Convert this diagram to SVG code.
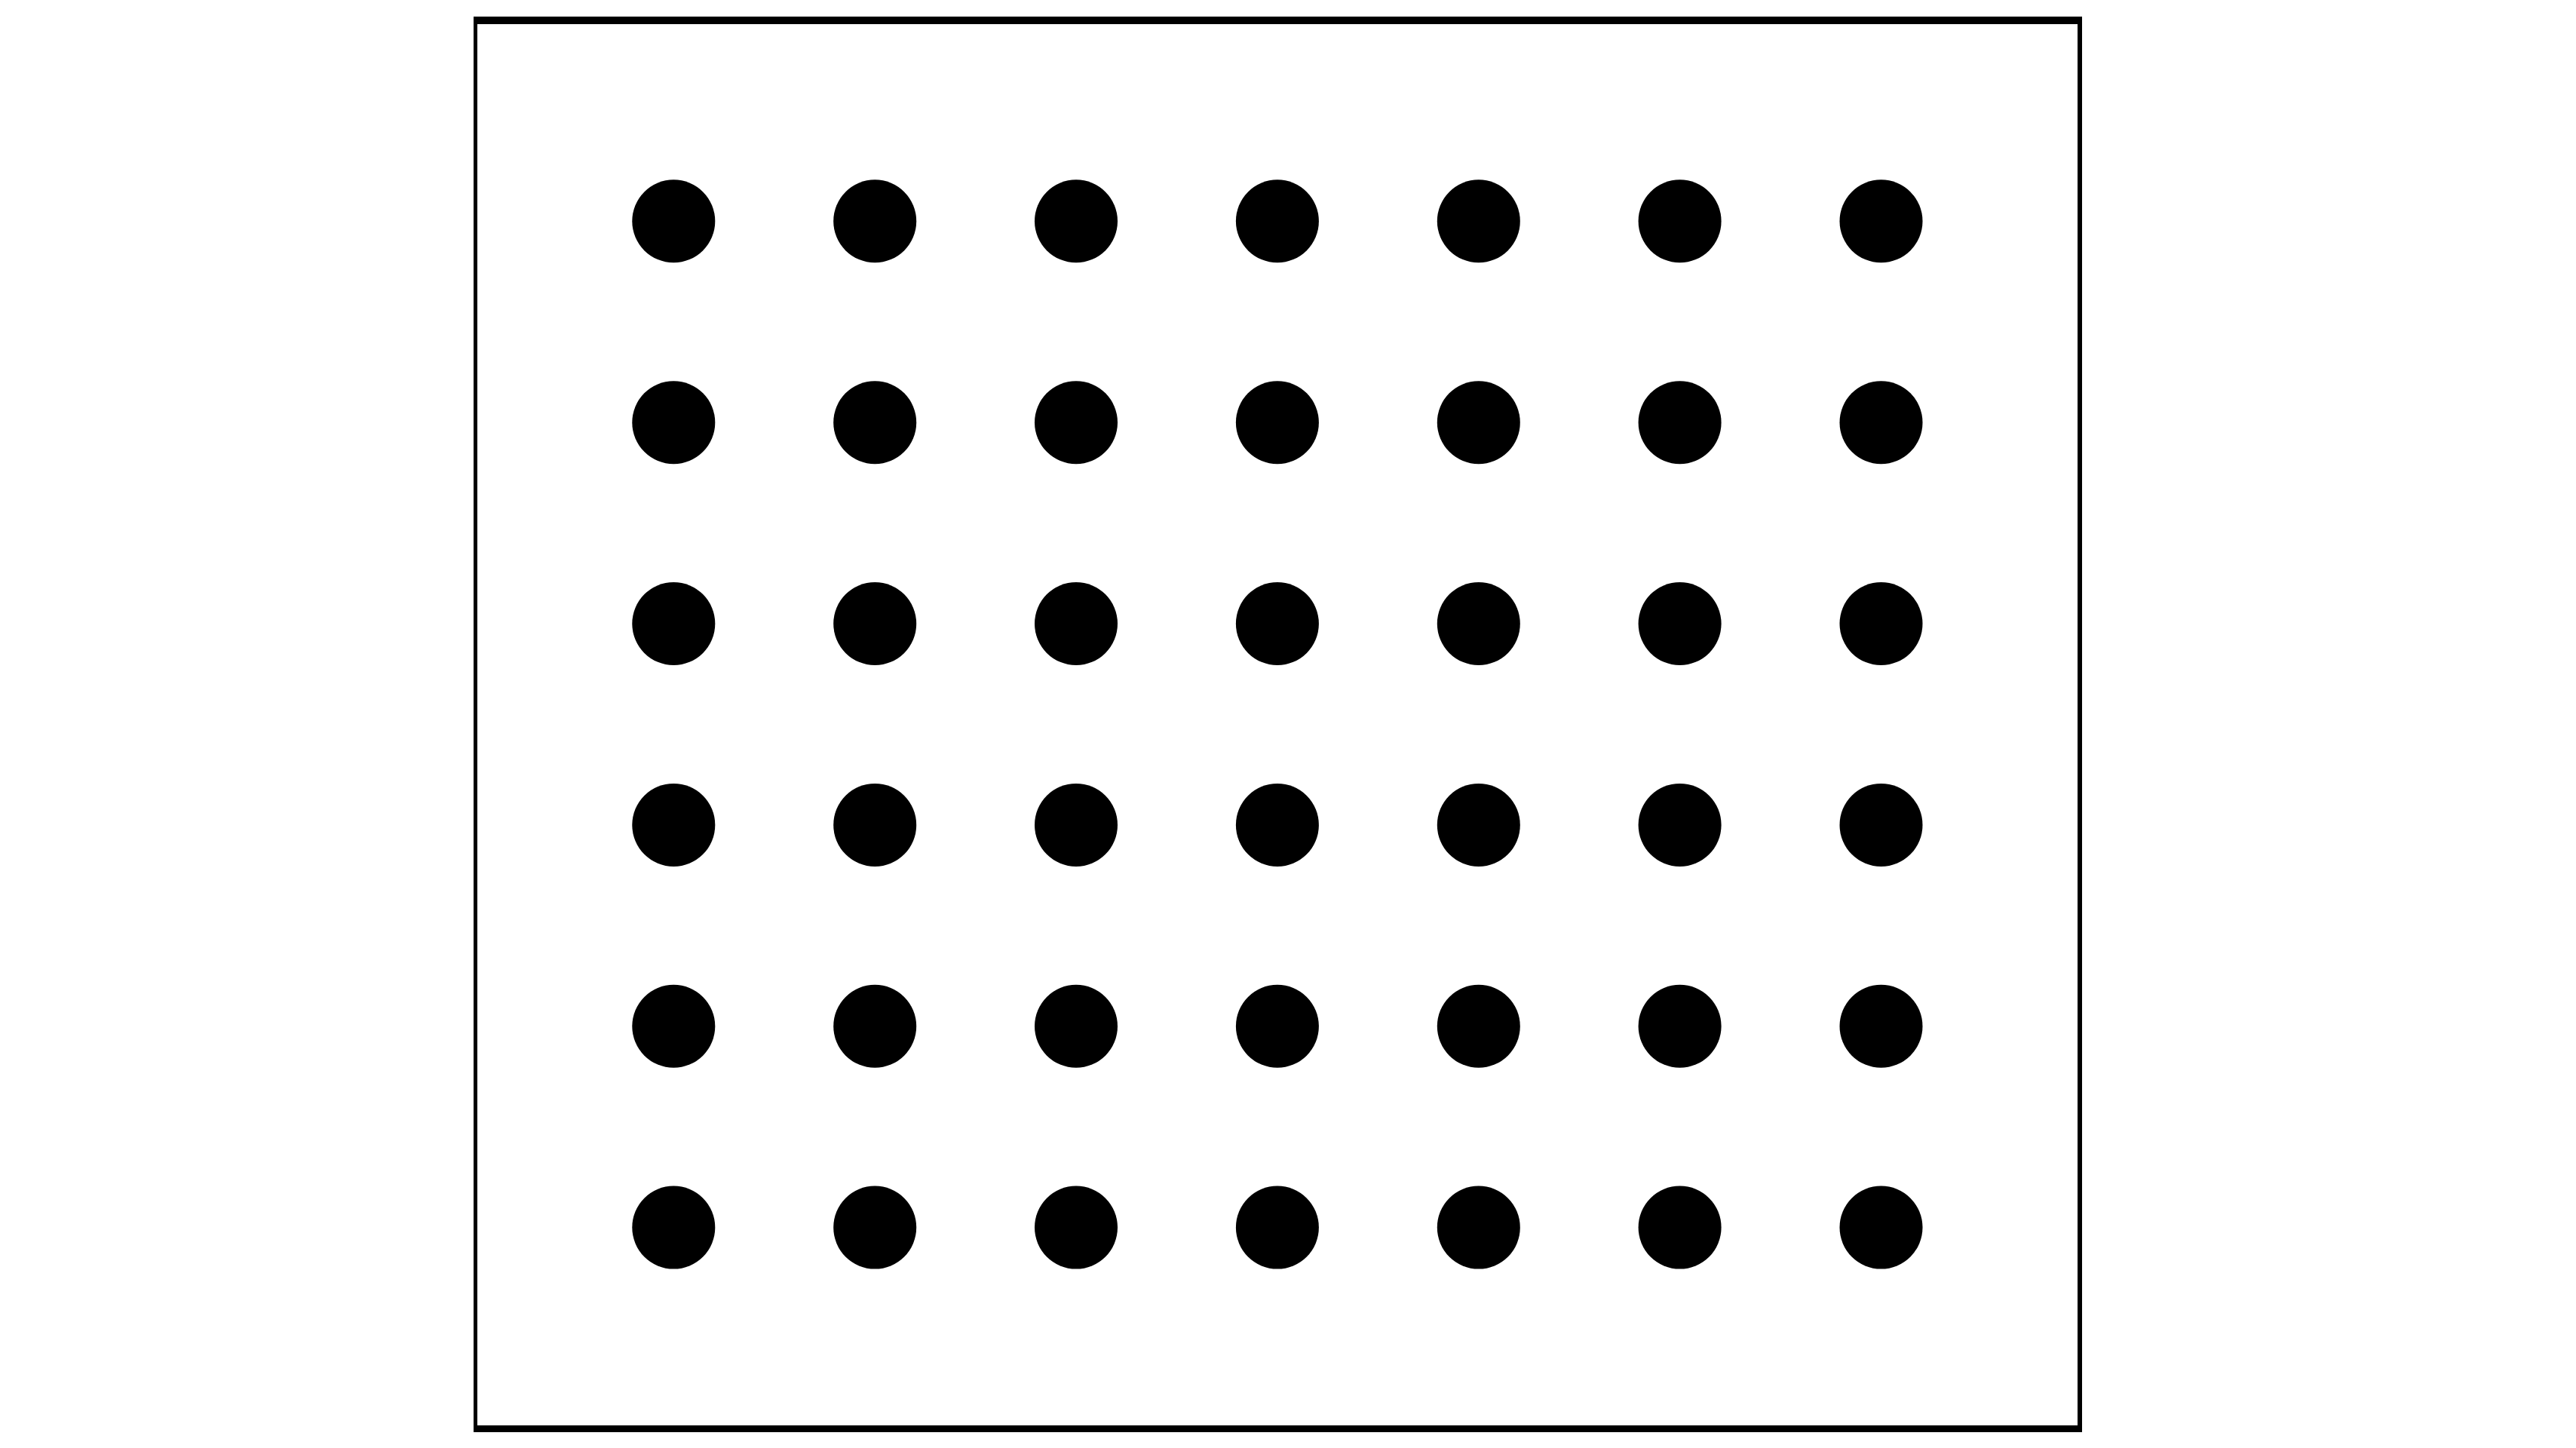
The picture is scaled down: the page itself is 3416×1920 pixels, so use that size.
<svg xmlns="http://www.w3.org/2000/svg" width="3416" height="1920" viewBox="0 0 3416 1920">
<defs>
<style>
.dot{fill:#000}
.frame{fill:#000;fill-rule:evenodd}
</style>
<circle id="d" r="55" class="dot"/>
</defs>
<rect width="3416" height="1920" fill="#fff"/>
<g id="frame">
<path class="frame" d="M628 22H2761V1899H628Z M633 32V1890H2755V32Z"/>
</g>
<g id="dots">
<g id="row1">
<use href="#d" x="893.3" y="293.3"/><use href="#d" x="1160.2" y="293.3"/><use href="#d" x="1427" y="293.3"/><use href="#d" x="1693.9" y="293.3"/><use href="#d" x="1960.8" y="293.3"/><use href="#d" x="2227.6" y="293.3"/><use href="#d" x="2494.5" y="293.3"/>
</g>
<g id="row2">
<use href="#d" x="893.3" y="560.2"/><use href="#d" x="1160.2" y="560.2"/><use href="#d" x="1427" y="560.2"/><use href="#d" x="1693.9" y="560.2"/><use href="#d" x="1960.8" y="560.2"/><use href="#d" x="2227.6" y="560.2"/><use href="#d" x="2494.5" y="560.2"/>
</g>
<g id="row3">
<use href="#d" x="893.3" y="827"/><use href="#d" x="1160.2" y="827"/><use href="#d" x="1427" y="827"/><use href="#d" x="1693.9" y="827"/><use href="#d" x="1960.8" y="827"/><use href="#d" x="2227.6" y="827"/><use href="#d" x="2494.5" y="827"/>
</g>
<g id="row4">
<use href="#d" x="893.3" y="1093.9"/><use href="#d" x="1160.2" y="1093.9"/><use href="#d" x="1427" y="1093.9"/><use href="#d" x="1693.9" y="1093.9"/><use href="#d" x="1960.8" y="1093.9"/><use href="#d" x="2227.6" y="1093.9"/><use href="#d" x="2494.5" y="1093.9"/>
</g>
<g id="row5">
<use href="#d" x="893.3" y="1360.8"/><use href="#d" x="1160.2" y="1360.8"/><use href="#d" x="1427" y="1360.8"/><use href="#d" x="1693.9" y="1360.8"/><use href="#d" x="1960.8" y="1360.8"/><use href="#d" x="2227.6" y="1360.8"/><use href="#d" x="2494.5" y="1360.8"/>
</g>
<g id="row6">
<use href="#d" x="893.3" y="1627.6"/><use href="#d" x="1160.2" y="1627.6"/><use href="#d" x="1427" y="1627.6"/><use href="#d" x="1693.9" y="1627.6"/><use href="#d" x="1960.8" y="1627.6"/><use href="#d" x="2227.6" y="1627.6"/><use href="#d" x="2494.5" y="1627.6"/>
</g>
</g>
</svg>
